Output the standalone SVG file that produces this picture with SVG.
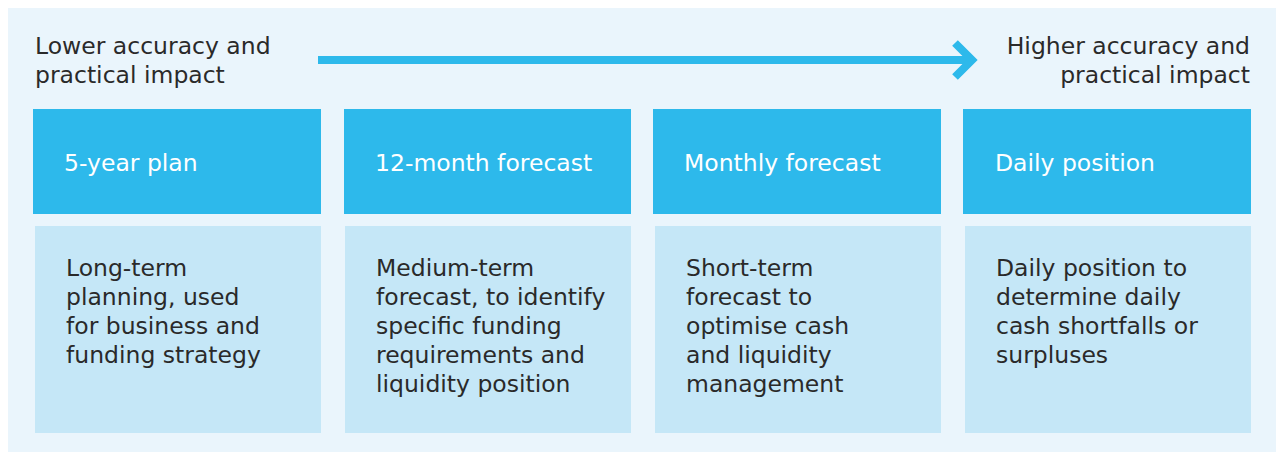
<svg xmlns="http://www.w3.org/2000/svg" width="1276" height="452" viewBox="0 0 1276 452">
<style>
.t{font-family:"DejaVu Sans","Liberation Sans",sans-serif;font-size:23.5px;fill:#2a2a2a}
.h{font-family:"DejaVu Sans","Liberation Sans",sans-serif;font-size:23.5px;fill:#ffffff}
.hb{fill:#2db9eb}
.bb{fill:#c5e7f7}
</style>
<rect x="0" y="0" width="1276" height="452" fill="#ffffff"/>
<rect x="8" y="8" width="1268" height="444" fill="#eaf5fc"/>
<g id="label-low">
<text class="t" x="35" y="54">Lower accuracy and</text>
<text class="t" x="35" y="83">practical impact</text>
</g>
<g id="label-high">
<text class="t" x="1250" y="54" text-anchor="end">Higher accuracy and</text>
<text class="t" x="1250" y="83" text-anchor="end">practical impact</text>
</g>
<g id="connectors">
<line x1="318" y1="60" x2="972" y2="60" stroke="#2db9eb" stroke-width="8"/>
<polyline points="955,43 972,60 955,77" fill="none" stroke="#2db9eb" stroke-width="8" stroke-linecap="butt"/>
</g>
<g id="col1">
<rect class="hb" x="33" y="109" width="288" height="105"/>
<text class="h" x="64" y="171">5-year plan</text>
<rect class="bb" x="35" y="226" width="286" height="207"/>
<text class="t" x="66" y="276">Long-term</text>
<text class="t" x="66" y="305">planning, used</text>
<text class="t" x="66" y="334">for business and</text>
<text class="t" x="66" y="363">funding strategy</text>
</g>
<g id="col2">
<rect class="hb" x="344" y="109" width="287" height="105"/>
<text class="h" x="375" y="171">12-month forecast</text>
<rect class="bb" x="345" y="226" width="286" height="207"/>
<text class="t" x="376" y="276">Medium-term</text>
<text class="t" x="376" y="305">forecast, to identify</text>
<text class="t" x="376" y="334">specific funding</text>
<text class="t" x="376" y="363">requirements and</text>
<text class="t" x="376" y="392">liquidity position</text>
</g>
<g id="col3">
<rect class="hb" x="653" y="109" width="288" height="105"/>
<text class="h" x="684" y="171">Monthly forecast</text>
<rect class="bb" x="655" y="226" width="286" height="207"/>
<text class="t" x="686" y="276">Short-term</text>
<text class="t" x="686" y="305">forecast to</text>
<text class="t" x="686" y="334">optimise cash</text>
<text class="t" x="686" y="363">and liquidity</text>
<text class="t" x="686" y="392">management</text>
</g>
<g id="col4">
<rect class="hb" x="963" y="109" width="288" height="105"/>
<text class="h" x="995" y="171">Daily position</text>
<rect class="bb" x="965" y="226" width="286" height="207"/>
<text class="t" x="996" y="276">Daily position to</text>
<text class="t" x="996" y="305">determine daily</text>
<text class="t" x="996" y="334">cash shortfalls or</text>
<text class="t" x="996" y="363">surpluses</text>
</g>
</svg>
